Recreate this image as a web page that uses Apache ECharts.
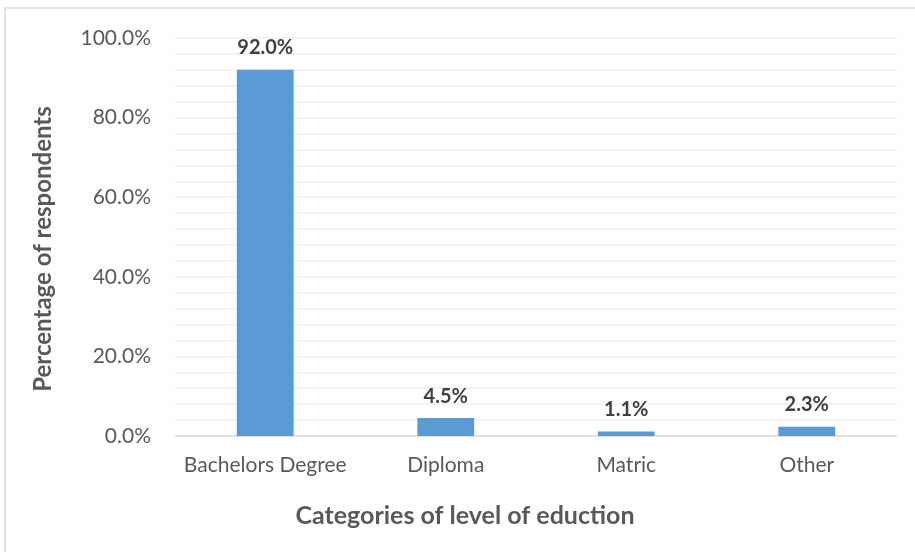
<!DOCTYPE html>
<html>
<head>
<meta charset="utf-8">
<script src="https://cdn.jsdelivr.net/npm/echarts@6/dist/echarts.min.js"></script>
<style>
  html, body { margin: 0; padding: 0; background: #ffffff; }
  #chart { width: 915px; height: 552px; }
</style>
</head>
<body>
<div id="chart"></div>
<script>
// Education level of respondents (share of all respondents, %)
const categories = ['Bachelors Degree', 'Diploma', 'Matric', 'Other'];
const percentages = [92.0, 4.5, 1.1, 2.3];
const yTicks = [0, 20, 40, 60, 80, 100];

const FONT = 'Lato, "Open Sans", sans-serif';

const chart = echarts.init(document.getElementById('chart'), null, { renderer: 'canvas' });

chart.setOption({
  backgroundColor: '#ffffff',
  animation: false,
  grid: { left: 175, right: 18, top: 38, bottom: 116, containLabel: false },
  xAxis: {
    type: 'category',
    data: categories,
    axisLine: { show: true, lineStyle: { color: '#d9d9d9', width: 1.5 } },
    axisTick: { show: false },
    axisLabel: { color: '#595959', fontSize: 21, fontFamily: FONT, margin: 19, interval: 0 }
  },
  yAxis: {
    type: 'value',
    min: yTicks[0],
    max: yTicks[yTicks.length - 1],
    interval: yTicks[1] - yTicks[0],
    axisLine: { show: false },
    axisTick: { show: false },
    axisLabel: {
      color: '#595959', fontSize: 21, fontFamily: FONT, margin: 24,
      formatter: v => v.toFixed(1) + '%'
    },
    splitLine: { show: true, lineStyle: { color: '#efefef', width: 1.5 } },
    minorTick: { show: false, splitNumber: 5 },
    minorSplitLine: { show: true, lineStyle: { color: '#efefef', width: 1.5 } }
  },
  series: [{
    type: 'bar',
    data: percentages,
    barWidth: '31.5%',
    itemStyle: { color: '#5b9bd5' },
    label: {
      show: true,
      position: 'top',
      distance: 12,
      color: '#404040',
      fontSize: 20,
      fontWeight: 'bold',
      fontFamily: FONT,
      formatter: p => p.value.toFixed(1) + '%'
    }
  }],
  graphic: [
    {
      type: 'rect',
      silent: true,
      shape: { x: 5, y: 8, width: 1000, height: 1000 },
      style: { fill: 'none', stroke: '#d9d9d9', lineWidth: 1.5 }
    },
    {
      type: 'text',
      x: 465,
      y: 516,
      style: {
        text: 'Categories of level of eduction',
        fill: '#595959',
        font: 'bold 25px ' + FONT,
        align: 'center',
        verticalAlign: 'middle'
      }
    },
    {
      type: 'text',
      x: 43,
      y: 249,
      rotation: Math.PI / 2,
      style: {
        text: 'Percentage of respondents',
        fill: '#595959',
        font: 'bold 24px ' + FONT,
        align: 'center',
        verticalAlign: 'middle'
      }
    }
  ]
});
</script>
</body>
</html>
